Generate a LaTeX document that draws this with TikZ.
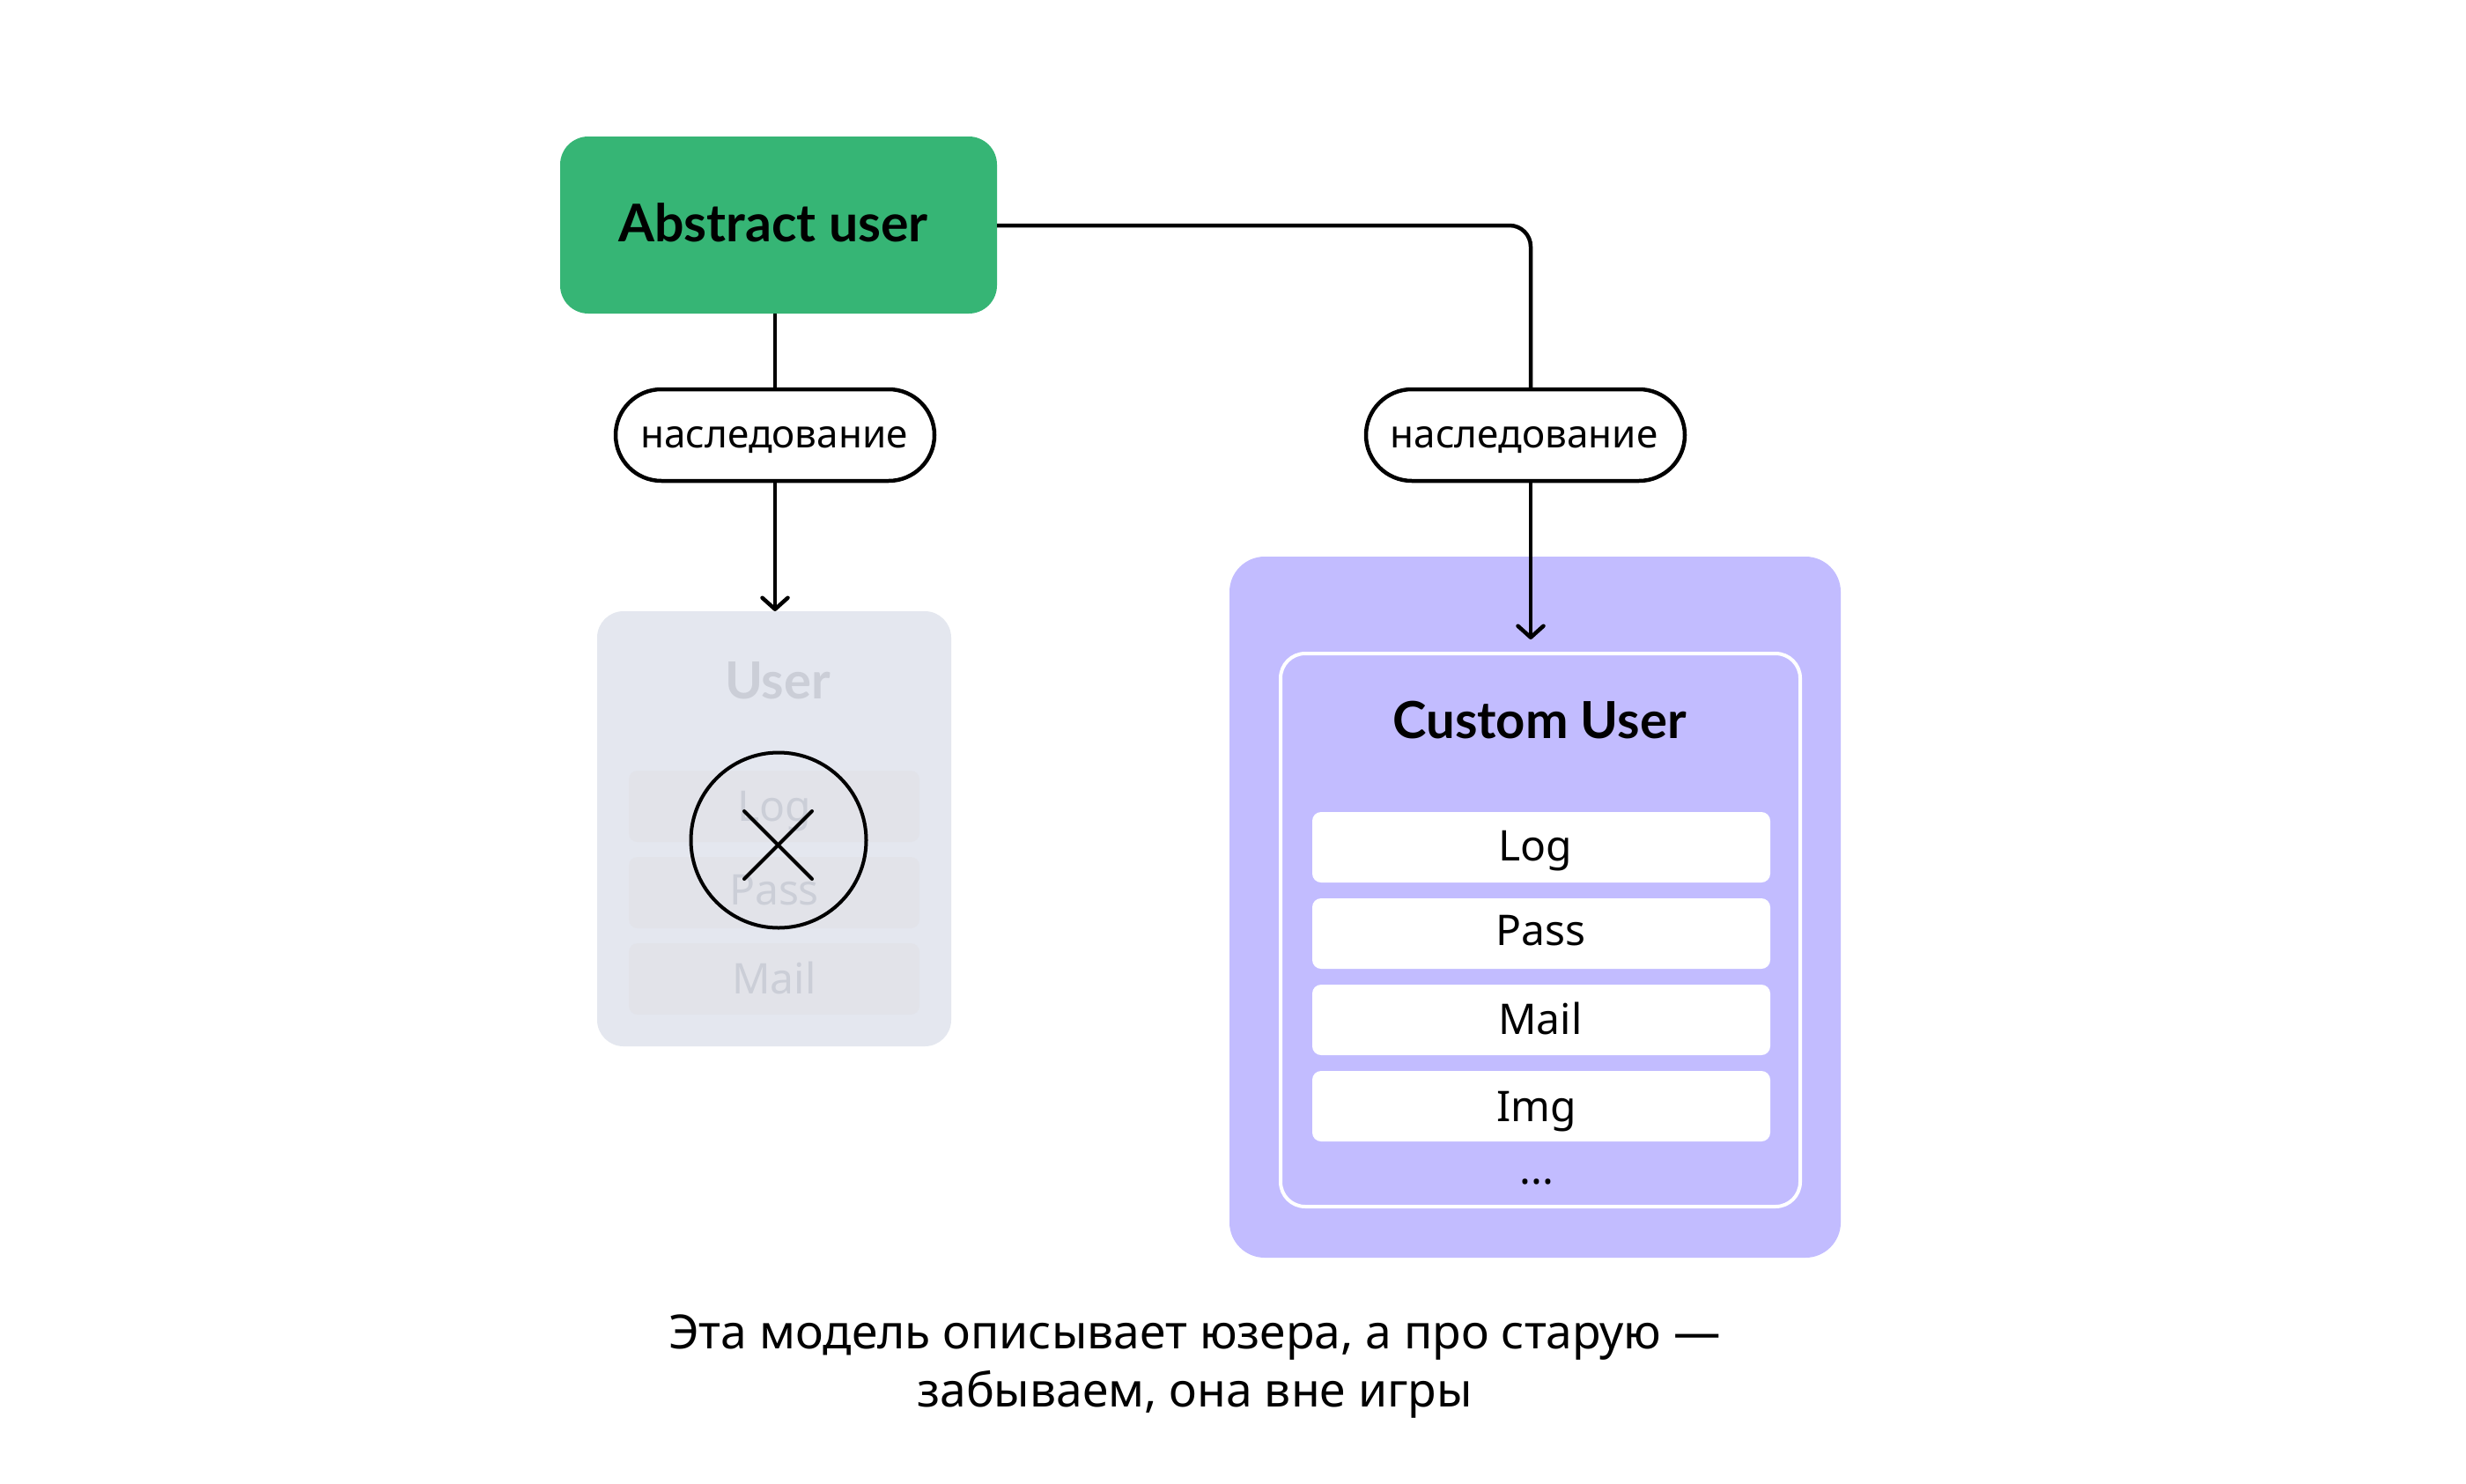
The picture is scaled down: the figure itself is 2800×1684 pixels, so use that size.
\documentclass[tikz,border=0pt]{standalone}
\usepackage{fontspec}
\setmainfont{Noto Sans}
\newfontfamily\titlefont{Lato}
\usetikzlibrary{arrows.meta}
\definecolor{greenbox}{HTML}{36B575}
\definecolor{purplebox}{HTML}{C2BCFF}
\definecolor{grayback}{HTML}{E4E7EF}
\definecolor{grayrow}{HTML}{E2E3E9}
\definecolor{graytxt}{HTML}{CBCED7}
\tikzset{
  x=1pt,y=-1pt,
  conn/.style={line width=4.5pt,black},
  arrowconn/.style={conn,-{Straight Barb[length=13pt,width=29pt,line width=4.5pt,round]}},
  graybox/.style={fill=grayrow,rounded corners=10pt},
  whitebox/.style={fill=white,rounded corners=10pt},
  pill/.style={draw=black,line width=4.5pt,fill=white,rounded corners=52pt,minimum width=362pt,minimum height=104pt,inner sep=0pt,text=black,text height=28pt,text depth=0pt,font=\fontsize{44}{50}\selectfont},
  rowtext/.style={anchor=base,font=\fontsize{48}{56}\selectfont,text=black,inner sep=0pt},
  graytext/.style={rowtext,text=graytxt},
  title/.style={anchor=base,font=\fontsize{58}{64}\selectfont\titlefont\bfseries,text=black,inner sep=0pt},
}
\begin{document}
\begin{tikzpicture}
\useasboundingbox (0,0) rectangle (2800,1684);
\fill[white] (0,0) rectangle (2800,1684);
% green
\fill[greenbox,rounded corners=32pt] (636,155) rectangle (1132,356);
\node[title,font=\fontsize{59}{64}\selectfont\titlefont\bfseries] (abs) at (878,274) {Abstract user};
\coordinate (absS) at (880,356);
\coordinate (absE) at (1132,256);
% gray
\fill[grayback,rounded corners=30pt] (678,694) rectangle (1080,1188);
\node[title,text=graytxt] (user) at (883,793) {User};
\fill[graybox] (714,875) rectangle (1044,956);
\fill[graybox] (714,973) rectangle (1044,1054);
\fill[graybox] (714,1071) rectangle (1044,1152);
\node[graytext] (glog) at (879,932) {Log};
\node[graytext] (gpass) at (879,1027) {Pass};
\node[graytext] (gmail) at (879,1128) {Mail};
\node[draw=black,line width=4pt,circle,minimum size=199pt,inner sep=0pt] (circ) at (884,954) {};
\coordinate (xa) at (845,921); \coordinate (xb) at (922,998);
\coordinate (xc) at (922,921); \coordinate (xd) at (845,998);
\draw[line width=4pt,line cap=round] (xa) -- (xb);
\draw[line width=4pt,line cap=round] (xc) -- (xd);
% purple
\fill[purplebox,rounded corners=40pt] (1396,632) rectangle (2090,1428);
\draw[white,line width=4pt,rounded corners=28pt] (1454,742) rectangle (2044,1370);
\node[title] (cu) at (1748,838) {Custom User};
\foreach \y/\t/\n/\xx/\b in {922/Log/a/1743/977,1020/Pass/b/1749/1073,1118/Mail/c/1749/1174,1216/Img/d/1745/1273}{
  \fill[whitebox] (1490,\y) rectangle (2010,\y+80);
  \node[rowtext] (row\n) at (\xx,\b) {\t};
}
\node[rowtext] (dots) at (1745,1344) {...};
% pills
\node[pill] (p1) at (880,494) {\hspace*{-2pt}наследование};
\node[pill] (p2) at (1732,494) {\hspace*{-3pt}наследование};
\coordinate (t1) at (880,694);
\coordinate (t2) at (1738,726);
\coordinate (b2) at (1738,494);
\draw[conn] (absS) -- (absS |- p1.north);
\draw[arrowconn] (p1.south) -- (t1);
\draw[conn,rounded corners=24pt] (absE) -- (b2 |- absE) -- (b2 |- p2.north);
\draw[arrowconn] (b2 |- p2.south) -- (t2);
% caption
\node[align=center,font=\fontsize{53.4}{66}\selectfont,text=black,inner sep=0pt] (cap) at (1356.5,1551.5) {Эта модель описывает юзера, а про старую —\\забываем, она вне игры};
\end{tikzpicture}
\end{document}
